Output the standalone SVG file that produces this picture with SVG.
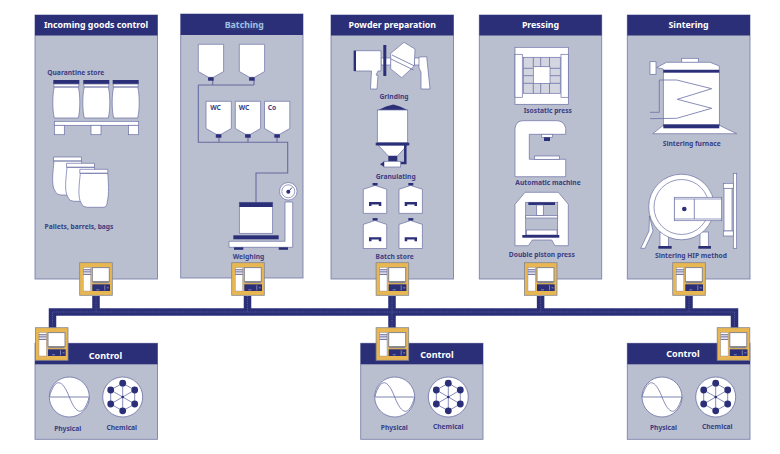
<svg xmlns="http://www.w3.org/2000/svg" xmlns:xlink="http://www.w3.org/1999/xlink" width="780" height="454" viewBox="0 0 780 454">
<style>
.panel{fill:#b9bfce;stroke:#7d82ad;stroke-width:.9}
.head{fill:#2b2f78}
.w{fill:#fff;stroke:#6a6fa5;stroke-width:.7}
.g{fill:#d3d6e1;stroke:#6a6fa5;stroke-width:.7}
.d{fill:#2b2f78}
.l{fill:none;stroke:#6a6fa5;stroke-width:.8}
.p{fill:none;stroke:#666ba0;stroke-width:1.1}
.h{font:700 8.8px "Noto Sans","Open Sans",sans-serif;fill:#fff;text-anchor:middle}
.c{font:700 9px "Noto Sans","Open Sans",sans-serif;fill:#fff;text-anchor:middle}
.t{font:700 6.7px "Noto Sans","Open Sans",sans-serif;fill:#3a3e85;text-anchor:middle}
.bus{fill:none;stroke:#2b2f78;stroke-width:7.5}
.dots{fill:none;stroke:#7074aa;stroke-width:.7;stroke-dasharray:1 1.4}
</style>
<defs>
<g id="terminal">
<rect x=".4" y=".4" width="32.6" height="32.6" fill="#e8b752" stroke="#85858f" stroke-width=".8"/>
<rect x="4" y="5.300" width="7.300" height="23.400" fill="#fff" stroke="#8a8ca8" stroke-width=".4"/>
<path d="M4 7.500h7.300M4 9.600h7.300M4 12h7.300" stroke="#2b2f78" stroke-width=".8"/>
<rect x="13" y="5.300" width="17" height="14" fill="#fff" stroke="#85858f" stroke-width="1"/>
<rect x="13.500" y="19.300" width="16" height="1.600" fill="#85858f"/>
<rect x="13" y="22" width="17.700" height="6.700" fill="#2b2f78"/>
<path d="M17 27.500h3M25.500 23v5M27.500 25.500h2" stroke="#b9bfce" stroke-width=".6"/>
</g>
<g id="barrel">
<rect x="0" y="0" width="26" height="4" class="d"/>
<path class="w" d="M.5 4h25v3h-25zM1 7C-1 15-1 30 1 38H25C27 30 27 15 25 7Z"/>
</g>
<path id="bag" class="w" d="M.5 0H28.500V4H.5ZM1 4C0 15-2 28 2 34Q3 38 8 38H24Q28 38 28 32C30 25 29 12 28.500 4Z"/>
<g id="silo">
<path class="w" d="M0 0H25.300V27.200L15.200 33H10.200L0 27.200Z"/>
<rect class="d" x="9.800" y="33" width="5.600" height="3.400"/>
</g>
<g id="store">
<path class="w" d="M0 3.900 11.700 0 23.400 3.900V28H0Z"/>
<rect class="d" x="9.300" y="-2.400" width="5" height="2.400"/>
<path class="d" d="M5.700 16.700H18V20.700H15.500V19H8.200V20.700H5.700Z"/>
</g>
<g id="physical">
<circle r="20" fill="#fff" stroke="#6a6fa5" stroke-width=".8"/>
<path d="M-20 0H20" stroke="#a9aecb" stroke-width="1.500"/>
<path class="l" d="M-20 0C-14-20-7-18 0 0S14 20 20 0"/>
</g>
<g id="chemical">
<circle r="20" fill="#fff" stroke="#6a6fa5" stroke-width=".8"/>
<path class="l" d="M0-13.800 12-7 12 7 0 13.800-12 7-12-7ZM0-13.800V13.800M-12-7 12 7M12-7-12 7"/>
<g class="d"><circle cy="-13.800" r="3.400"/><circle cx="12" cy="-7" r="3.400"/><circle cx="12" cy="7" r="3.400"/><circle cy="13.800" r="3.400"/><circle cx="-12" cy="7" r="3.400"/><circle cx="-12" cy="-7" r="3.400"/><circle r="1.300"/></g>
</g>
</defs>
<rect width="780" height="454" fill="#fff"/>

<g id="incoming-goods-control">
<rect class="panel" x="35" y="15" width="122.500" height="264"/>
<rect class="head" x="35" y="15" width="122.500" height="20.500"/>
<text class="h" x="96" y="27.800">Incoming goods control</text>
<text class="t" x="75.800" y="75">Quarantine store</text>
<use xlink:href="#barrel" href="#barrel" x="53.300" y="80"/>
<use xlink:href="#barrel" href="#barrel" x="83.300" y="80"/>
<use xlink:href="#barrel" href="#barrel" x="112.700" y="80"/>
<rect class="w" x="54.300" y="121.300" width="84.400" height="4"/>
<rect class="w" x="54.300" y="125.300" width="10" height="9.400"/>
<rect class="w" x="91" y="125.300" width="10" height="9.400"/>
<rect class="w" x="128.500" y="125.300" width="10" height="9.400"/>
<use xlink:href="#bag" href="#bag" x="53" y="157"/>
<use xlink:href="#bag" href="#bag" x="66" y="163.300"/>
<use xlink:href="#bag" href="#bag" x="79.300" y="169.300"/>
<text class="t" x="79" y="229">Pallets, barrels, bags</text>
</g>

<g id="batching">
<rect class="panel" x="180.700" y="14" width="122.300" height="264"/>
<rect class="head" x="180.700" y="14" width="122.300" height="21"/>
<rect x="226" y="21" width="37" height="9" fill="#33397f"/>
<text class="h" x="244.300" y="27.500" style="fill:#9cc3e2">Batching</text>
<path class="p" d="M212.700 80V85M254 80V85M198.300 85H254M198.300 85V142.300H287.700V173H256V202.300M219 137V142.300M248 137V142.300M277 137V142.300"/>
<use xlink:href="#silo" href="#silo" x="198.300" y="44.300"/>
<use xlink:href="#silo" href="#silo" x="239.300" y="44.300"/>
<use xlink:href="#silo" href="#silo" x="206" y="101.300"/>
<use xlink:href="#silo" href="#silo" x="235.300" y="101.300"/>
<use xlink:href="#silo" href="#silo" x="264.500" y="101.300"/>
<text class="t" x="215.500" y="110">WC</text>
<text class="t" x="244" y="110">WC</text>
<text class="t" x="272" y="110">Co</text>
<circle class="w" cx="288.300" cy="191.300" r="8.800"/>
<circle class="w" cx="288.300" cy="191.300" r="6.500"/>
<circle class="d" cx="288.300" cy="191.800" r="2"/>
<path d="M288.300 191.800 292 187.500" stroke="#2b2f78" stroke-width=".9"/>
<rect class="w" x="239.300" y="202.300" width="33.400" height="31"/>
<rect class="d" x="239.300" y="202.300" width="33.400" height="4.700"/>
<rect class="d" x="233.300" y="235.300" width="45.400" height="4"/>
<path class="w" d="M285 202H292.700V247.300H229V241.300H285Z"/>
<rect class="d" x="234" y="247.300" width="9.300" height="2.500"/>
<rect class="d" x="278.700" y="247.300" width="9.300" height="2.500"/>
<text class="t" x="248.500" y="258.700">Weighing</text>
</g>

<g id="powder-preparation">
<rect class="panel" x="331" y="15" width="122.500" height="264"/>
<rect class="head" x="331" y="15" width="122.500" height="20.500"/>
<text class="h" x="392.300" y="27.800">Powder preparation</text>
<rect class="w" x="381" y="58" width="10" height="7"/>
<rect class="w" x="414.500" y="58" width="5" height="7"/>
<path class="w" d="M354.300 50.700H381V71H378L376 75 378 75.500 377 89H370.500L371.500 71H354.300Z"/>
<rect class="d" x="353.700" y="50.700" width="2.300" height="20.300"/>
<rect class="d" x="383.300" y="45" width="3" height="31"/>
<path class="w" d="M390.700 53.300 404 42.300 415 49 414.300 66 401.700 77.700 390.700 69Z"/>
<path class="l" d="M392 55 414.500 66M391 59 413.500 70"/>
<path class="w" d="M419 57 426.700 56.700 430 89 421 89 421 72 419 68Z"/>
<text class="t" x="394" y="99.300">Grinding</text>
<path class="d" d="M378.300 110 386 106.500 393.300 104.500 400 106.500 407.300 110Z"/>
<rect class="w" x="377.300" y="110" width="30.400" height="32.700"/>
<path class="w" d="M378.300 145.300H407.300L397.300 156H388.300Z"/>
<rect class="d" x="375.700" y="142.700" width="33.600" height="2.700"/>
<path d="M405.300 145V163H400" fill="none" stroke="#2b2f78" stroke-width="2.500"/>
<rect class="d" x="388.300" y="156" width="9" height="5.200"/>
<rect class="w" x="384" y="161.300" width="16.700" height="5.700"/>
<path class="d" d="M384 161.500V166.800L380 164.200Z"/>
<text class="t" x="395.700" y="179">Granulating</text>
<use xlink:href="#store" href="#store" x="363.300" y="185.400"/>
<use xlink:href="#store" href="#store" x="399" y="185.400"/>
<use xlink:href="#store" href="#store" x="363.300" y="220.500"/>
<use xlink:href="#store" href="#store" x="399" y="220.500"/>
<text class="t" x="394.700" y="259.300">Batch store</text>
</g>

<g id="pressing">
<rect class="panel" x="479.300" y="15" width="122.400" height="264"/>
<rect class="head" x="479.300" y="15" width="122.400" height="20.500"/>
<text class="h" x="540.500" y="27.800">Pressing</text>
<rect class="w" x="515" y="47.300" width="53.300" height="57"/>
<rect class="w" x="515" y="54.300" width="7.300" height="43"/>
<rect class="w" x="561" y="54.300" width="7.300" height="43"/>
<rect class="g" x="523.300" y="57.300" width="37" height="36"/>
<rect class="w" x="533.300" y="66.700" width="16.700" height="16.700"/>
<path class="l" d="M533.300 57.300V66.700M540.700 57.300V66.700M549.500 57.300V66.700M533.300 83.400V93.300M540.700 83.400V93.300M549.500 83.400V93.300M523.300 68.300H533.300M523.300 75.700H533.300M523.300 83.300H533.300M550 68.300H560.300M550 75.700H560.300M550 83.300H560.300"/>
<text class="t" x="547.800" y="113">Isostatic press</text>
<path class="w" d="M515 176.700V128.300Q516 120.700 523.300 120.700H556.700Q564 120.700 565.700 128.300V134.300H529.300V159.300H565.700V176.700Z"/>
<rect class="w" x="541.700" y="134.300" width="10.600" height="3"/>
<rect class="d" x="544" y="137.300" width="6" height="3.700"/>
<rect class="w" x="534.300" y="156" width="25" height="3.300"/>
<text class="t" x="548" y="185">Automatic machine</text>
<path class="w" d="M515 245.700V204.300L525 192.300H558.300L568.300 204.300V245.700H555L551.700 240H532.300L528.300 245.700Z"/>
<rect class="g" x="525.700" y="202.300" width="32" height="34.400" style="fill:#b9bfce"/>
<rect class="d" x="528.300" y="202.300" width="26.700" height="2.700"/>
<rect class="w" x="536.700" y="205" width="6.600" height="10.700"/>
<rect class="w" x="525.700" y="215.700" width="32" height="2.300"/>
<rect class="w" x="526.500" y="230" width="30.500" height="5"/>
<rect class="d" x="522.300" y="235" width="37" height="2.700"/>
<text class="t" x="541.800" y="257.300">Double piston press</text>
</g>

<g id="sintering">
<rect class="panel" x="627.300" y="15" width="122.700" height="264"/>
<rect class="head" x="627.300" y="15" width="122.700" height="20.500"/>
<text class="h" x="688.500" y="28">Sintering</text>
<rect class="w" x="681.700" y="58.300" width="16.600" height="4.200"/>
<path class="w" d="M656.700 67.500 666.500 62.300H710L719.300 66V70H663.300V69Z"/>
<rect class="w" x="650" y="61.700" width="6" height="12.600"/>
<path class="w" d="M652.700 133.700 663.300 125.300H719.300L736.700 133.700Z"/>
<rect class="w" x="663.300" y="70.700" width="56" height="55"/>
<rect class="d" x="663.300" y="70" width="56" height="2.700"/>
<rect class="d" x="663.300" y="124.300" width="56" height="4"/>
<path class="l" d="M650 112.300H659.300V80H676.700L711.700 88.700 677.300 99.300 711.700 108.300 676.700 118.300 650 118.700"/>
<text class="t" x="691.700" y="146">Sintering furnace</text>
<rect class="w" x="733.300" y="173.300" width="3.400" height="75"/>
<rect class="w" x="724" y="188" width="8" height="43"/>
<rect class="w" x="723.300" y="183.300" width="10" height="5"/>
<rect class="w" x="723.300" y="231" width="10" height="5"/>
<rect class="w" x="660" y="232" width="8.300" height="14.500"/>
<rect class="w" x="700" y="232" width="8.300" height="14.500"/>
<rect class="d" x="658.300" y="246" width="13.400" height="2.700"/>
<rect class="d" x="698.300" y="246" width="12.700" height="2.700"/>
<path class="w" d="M649.500 216 653 231 645 248.300H640.700L649 231Z"/>
<circle class="w" cx="681.500" cy="207" r="32.800"/>
<circle class="w" cx="681.500" cy="207" r="27.500"/>
<rect class="w" x="674.300" y="197.300" width="47.400" height="23.400"/>
<rect class="w" x="674.300" y="199" width="47.400" height="20"/>
<path class="l" d="M694.300 199V219"/>
<circle class="d" cx="684.300" cy="209" r="2.300"/>
<text class="t" x="691" y="258.300">Sintering HIP method</text>
</g>

<g id="connectors">
<path class="bus" d="M52.500 328V312H734.500V328M96 296V312M247.500 296V312M392 296V328M540.600 296V312M689 296V312"/>
<path class="dots" d="M52.500 328V312H734.500V328M96 296V312M247.500 296V312M392 296V328M540.600 296V312M689 296V312"/>
</g>

<g id="control-left">
<rect class="panel" x="35" y="343.300" width="122.500" height="96"/>
<rect class="head" x="35" y="343.300" width="122.500" height="21"/>
<text class="c" x="105.500" y="359">Control</text>
<use xlink:href="#physical" href="#physical" x="69.300" y="397"/>
<use xlink:href="#chemical" href="#chemical" x="122.700" y="397"/>
<text class="t" x="67.700" y="430.700">Physical</text>
<text class="t" x="121.800" y="430">Chemical</text>
</g>
<g id="control-middle">
<rect class="panel" x="360.700" y="343.300" width="122.300" height="96"/>
<rect class="head" x="360.700" y="343.300" width="122.300" height="21"/>
<text class="c" x="437" y="358">Control</text>
<use xlink:href="#physical" href="#physical" x="394.700" y="397"/>
<use xlink:href="#chemical" href="#chemical" x="448.300" y="397"/>
<text class="t" x="394.300" y="430">Physical</text>
<text class="t" x="448.300" y="429.300">Chemical</text>
</g>
<g id="control-right">
<rect class="panel" x="627.300" y="343.300" width="122.700" height="96"/>
<rect class="head" x="627.300" y="343.300" width="122.700" height="21"/>
<text class="c" x="683" y="357">Control</text>
<use xlink:href="#physical" href="#physical" x="662" y="397"/>
<use xlink:href="#chemical" href="#chemical" x="715.700" y="397"/>
<text class="t" x="663.500" y="430">Physical</text>
<text class="t" x="717.300" y="429.300">Chemical</text>
</g>

<g id="terminal-1"><use xlink:href="#terminal" href="#terminal" x="79.300" y="262.300"/></g>
<g id="terminal-2"><use xlink:href="#terminal" href="#terminal" x="231.300" y="262.300"/></g>
<g id="terminal-3"><use xlink:href="#terminal" href="#terminal" x="375.700" y="262.300"/></g>
<g id="terminal-4"><use xlink:href="#terminal" href="#terminal" x="524" y="262.300"/></g>
<g id="terminal-5"><use xlink:href="#terminal" href="#terminal" x="672.300" y="262.300"/></g>
<g id="terminal-6"><use xlink:href="#terminal" href="#terminal" x="35" y="327.300"/></g>
<g id="terminal-7"><use xlink:href="#terminal" href="#terminal" x="375.700" y="327.300"/></g>
<g id="terminal-8"><use xlink:href="#terminal" href="#terminal" x="716.800" y="327.300"/></g>
</svg>
